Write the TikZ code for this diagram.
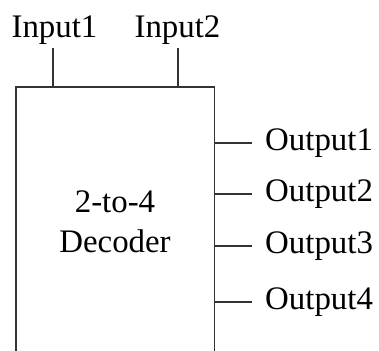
\documentclass[tikz,border=0pt]{standalone}
\usepackage{fontspec}
\setmainfont{Liberation Serif}
\begin{document}
\begin{tikzpicture}[x=1bp,y=-1bp,
  wire/.style={line width=1.3bp,draw=black!80},
  lbl/.style={font=\fontsize{33}{38}\selectfont,inner sep=0pt,text=black},
  portlbl/.style={lbl,anchor=base west},
  inlbl/.style={lbl,anchor=base}]
\useasboundingbox (0,0) rectangle (379,351);

% decoder body (open at the bottom edge of the picture)
\node[draw=none,inner sep=0pt,minimum width=198bp,minimum height=266bp,anchor=north west]
  (dec) at (16,87) {};
\draw[wire] (dec.south west) -- (dec.north west) -- (dec.north east) -- (dec.south east);

\node[inlbl] (t1) at (115,212) {2-to-4};
\node[inlbl] (t2) at (115,252) {Decoder};

% inputs
\node[inlbl] (in1) at (54.5,37) {Input1};
\node[inlbl] (in2) at (177.5,37) {Input2};
\coordinate (a1) at (53,48);
\coordinate (a2) at (178,48);
\draw[wire] (a1) -- (a1 |- dec.north);
\draw[wire] (a2) -- (a2 |- dec.north);

% outputs
\foreach \i/\y in {1/143,2/194,3/246,4/302}{
  \coordinate (e\i) at (252,\y);
  \node[portlbl] (out\i) at (265,\y+7.5) {Output\i};
  \draw[wire] (dec.east |- e\i) -- (e\i);
}
\end{tikzpicture}
\end{document}
